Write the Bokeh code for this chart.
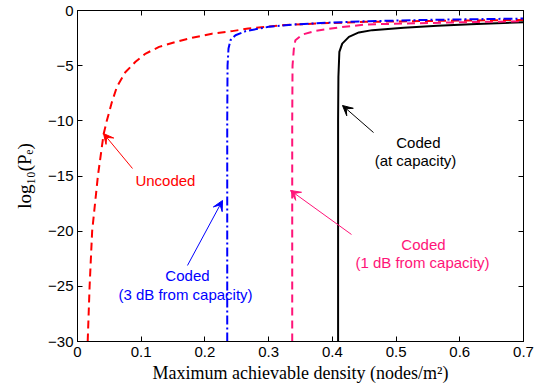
import numpy as np
from bokeh.plotting import figure
from bokeh.models import Range1d, FixedTicker, LinearAxis, Label, Arrow, VeeHead
from bokeh.embed import file_html
from bokeh.resources import INLINE

# ---------------- data ----------------
uncoded_x = [0.016, 0.019, 0.023, 0.032, 0.041, 0.046, 0.054, 0.062, 0.075, 0.091,
             0.107, 0.128, 0.154, 0.180, 0.211, 0.243, 0.268, 0.321, 0.374, 0.452,
             0.550, 0.700]
uncoded_y = [-30, -25, -20, -15, -11.2, -10, -8.3, -6.9, -5.6, -4.65,
             -3.9, -3.3, -2.85, -2.47, -2.1, -1.87, -1.63, -1.33, -1.18, -1.03,
             -0.95, -0.85]

coded3_x = [0.235, 0.235, 0.2355, 0.237, 0.240, 0.248, 0.264, 0.300, 0.347, 0.400,
            0.457, 0.550, 0.700]
coded3_y = [-30, -10, -5, -3.45, -2.7, -2.24, -1.87, -1.48, -1.24, -1.09,
            -0.97, -0.85, -0.73]

coded1_x = [0.337, 0.337, 0.3375, 0.3396, 0.342, 0.353, 0.374, 0.410, 0.452, 0.512,
            0.600, 0.700]
coded1_y = [-30, -10, -5, -3.45, -2.69, -2.18, -1.84, -1.54, -1.27, -1.18,
            -1.07, -0.97]

capacity_x = [0.409, 0.409, 0.4095, 0.411, 0.4155, 0.426, 0.4416, 0.4626, 0.512,
              0.565, 0.617, 0.700]
capacity_y = [-30, -10, -6, -3.75, -3.0, -2.39, -1.99, -1.78, -1.57,
              -1.39, -1.24, -1.07]

x_ticks = [0, 0.1, 0.2, 0.3, 0.4, 0.5, 0.6, 0.7]
x_tick_labels = ["0", "0.1", "0.2", "0.3", "0.4", "0.5", "0.6", "0.7"]
y_ticks = [-30, -25, -20, -15, -10, -5, 0]
y_tick_labels = ["\u221230", "\u221225", "\u221220", "\u221215", "\u221210", "\u22125", "0"]

x_title = "Maximum achievable density (nodes/m\u00b2)"
y_title = "log\u2081\u2080(P\u2091)"

RED = "#ff0000"
BLUE = "#0000ff"
MAGENTA = "#ff1478"
BLACK = "#000000"

SANS = "Liberation Sans"
SERIF = "Liberation Serif"

p = figure(width=541, height=388, output_backend="svg", toolbar_location=None,
           x_range=Range1d(0, 0.7), y_range=Range1d(-30, 0),
           min_border_left=77, min_border_right=18, min_border_top=10,
           min_border_bottom=47)
p.grid.visible = False
p.outline_line_color = "black"
p.outline_line_width = 1
p.background_fill_color = "white"
p.border_fill_color = "white"


def style_axis(ax, ticks, labels, show):
    ax.ticker = FixedTicker(ticks=ticks)
    ax.major_tick_in = 5
    ax.major_tick_out = 0
    ax.minor_tick_line_color = None
    ax.axis_line_color = "black"
    ax.axis_line_width = 1
    ax.major_tick_line_color = "black"
    ax.major_label_text_font = SANS
    ax.major_label_text_font_size = "15px"
    ax.major_label_text_color = "black"
    if show:
        ax.major_label_overrides = {t: l for t, l in zip(ticks, labels)}
    else:
        ax.major_label_overrides = {t: "" for t in ticks}
        ax.major_label_standoff = 0


style_axis(p.xaxis[0], x_ticks, x_tick_labels, True)
p.xaxis[0].major_label_standoff = 5
p.xaxis[0].axis_label = x_title
p.xaxis[0].axis_label_text_font = SERIF
p.xaxis[0].axis_label_text_font_style = "normal"
p.xaxis[0].axis_label_text_font_size = "18px"
p.xaxis[0].axis_label_text_color = "black"
p.xaxis[0].axis_label_standoff = 3

style_axis(p.yaxis[0], y_ticks, y_tick_labels, True)
p.yaxis[0].major_label_standoff = 4
p.yaxis[0].axis_label = y_title
p.yaxis[0].axis_label_text_font = SERIF
p.yaxis[0].axis_label_text_font_style = "normal"
p.yaxis[0].axis_label_text_font_size = "19px"
p.yaxis[0].axis_label_text_color = "black"
p.yaxis[0].axis_label_standoff = 10

top_ax = LinearAxis()
style_axis(top_ax, x_ticks, x_tick_labels, False)
p.add_layout(top_ax, "above")
right_ax = LinearAxis()
style_axis(right_ax, y_ticks, y_tick_labels, False)
p.add_layout(right_ax, "right")

# ---------------- curves ----------------
p.line(capacity_x, capacity_y, line_color=BLACK, line_width=2)
p.line(coded1_x, coded1_y, line_color=MAGENTA, line_width=2, line_dash="8 5")
p.line(uncoded_x, uncoded_y, line_color=RED, line_width=2, line_dash="8 5")
p.line(coded3_x, coded3_y, line_color=BLUE, line_width=2, line_dash="9 3 2 3")

# ---------------- annotations ----------------
def arrow(x0, y0, x1, y1, color):
    p.add_layout(Arrow(x_start=x0, y_start=y0, x_end=x1, y_end=y1,
                       line_color=color, line_width=1,
                       end=VeeHead(size=10, fill_color=color, line_color=color,
                                   line_width=1)))


def text(x, y, s, color):
    p.add_layout(Label(x=x, y=y, text=s, text_color=color, text_font=SANS,
                       text_font_size="15px", text_align="center",
                       text_baseline="middle"))


arrow(0.0863, -14.32, 0.0408, -11.15, RED)
text(0.138, -15.41, "Uncoded", RED)

arrow(0.1726, -23.11, 0.2276, -17.22, BLUE)
text(0.1726, -24.02, "Coded", BLUE)
text(0.1695, -25.74, "(3 dB from capacity)", BLUE)

arrow(0.4646, -11.06, 0.4159, -8.61, BLACK)
text(0.535, -11.96, "Coded", BLACK)
text(0.5305, -13.6, "(at capacity)", BLACK)

arrow(0.430, -20.3, 0.3343, -16.31, MAGENTA)
text(0.543, -21.21, "Coded", MAGENTA)
text(0.5415, -22.84, "(1 dB from capacity)", MAGENTA)

open("out.html", "w").write(file_html(p, INLINE))
